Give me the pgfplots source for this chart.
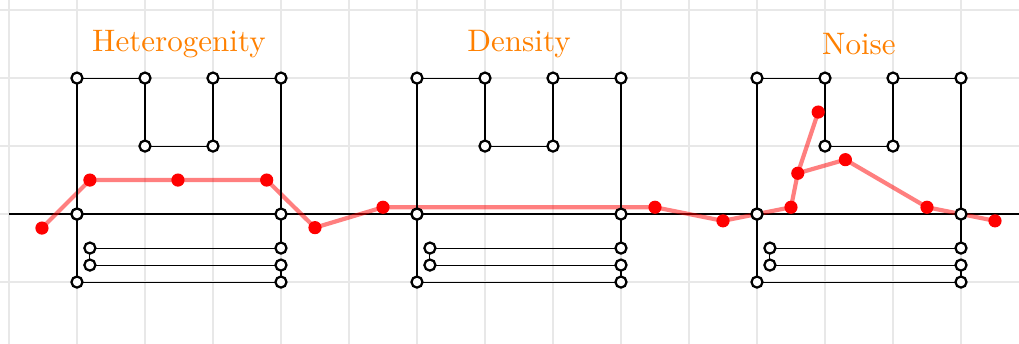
\documentclass[border=0pt]{standalone}
\usepackage{pgfplots}
\pgfplotsset{compat=1.18}
\begin{document}
\begin{tikzpicture}
\begin{axis}[
  x=0.8cm, y=0.8cm,
  xmin=-0.132, xmax=14.853, ymin=-1.91, ymax=3.148,
  axis line style={draw=none},
  xtick={0,...,14}, ytick={-1,0,1,2,3},
  xticklabels={}, yticklabels={},
  major tick length=0pt,
  grid=major,
  major grid style={line width=0.6pt, draw=black!9},
  clip=false,
]
% baseline
\addplot[black, line width=0.4pt, forget plot] coordinates {(0,0) (14.853,0)};
% red series (line)
\addplot[red, opacity=0.5, line width=1.4pt, no marks, forget plot] coordinates {
 (0.485,-0.206) (1.19,0.5) (2.485,0.5) (3.79,0.5) (4.5,-0.2) (5.5,0.1)
 (9.5,0.1) (10.5,-0.1) (11,0) (11.5,0.1) (11.6,0.6) (12.3,0.8)
 (13.5,0.1) (14,0) (14.5,-0.1)};
\addplot[red, opacity=0.5, line width=1.4pt, no marks, forget plot] coordinates {
 (11.6,0.6) (11.9,1.5)};
% red points
\addplot[only marks, mark=*, mark size=2pt, mark options={fill=red, draw=red}, forget plot] coordinates {
 (0.485,-0.206) (1.19,0.5) (2.485,0.5) (3.79,0.5) (4.5,-0.2) (5.5,0.1)
 (9.5,0.1) (10.5,-0.1) (11.5,0.1) (11.6,0.6) (12.3,0.8)
 (13.5,0.1) (14.5,-0.1) (11.9,1.5)};
% black shapes
\addplot[black, line width=0.35pt, mark=*, mark size=1.85pt, mark options={fill=white, draw=black, line width=0.75pt}, forget plot] coordinates {
 (1,0) (1,2) (2,2) (2,1) (3,1) (3,2) (4,2) (4,0) (4,-0.5) (1.19,-0.5) (1.19,-0.75) (4,-0.75) (4,-1) (1,-1) (1,0)};
\addplot[black, line width=0.35pt, mark=*, mark size=1.85pt, mark options={fill=white, draw=black, line width=0.75pt}, forget plot] coordinates {
 (6,0) (6,2) (7,2) (7,1) (8,1) (8,2) (9,2) (9,0) (9,-0.5) (6.19,-0.5) (6.19,-0.75) (9,-0.75) (9,-1) (6,-1) (6,0)};
\addplot[black, line width=0.35pt, mark=*, mark size=1.85pt, mark options={fill=white, draw=black, line width=0.75pt}, forget plot] coordinates {
 (11,0) (11,2) (12,2) (12,1) (13,1) (13,2) (14,2) (14,0) (14,-0.5) (11.19,-0.5) (11.19,-0.75) (14,-0.75) (14,-1) (11,-1) (11,0)};
% titles
\node[text=orange, anchor=center, font=\fontsize{10.4}{12}\selectfont] at (axis cs:2.5,2.5) {Heterogenity};
\node[text=orange, anchor=center, font=\fontsize{10.4}{12}\selectfont] at (axis cs:7.5,2.5) {Density};
\node[text=orange, anchor=center, font=\fontsize{10.4}{12}\selectfont] at (axis cs:12.5,2.5) {Noise};
\end{axis}
\pgfresetboundingbox
\path (current axis.south west) rectangle (current axis.north east);
\end{tikzpicture}
\end{document}
